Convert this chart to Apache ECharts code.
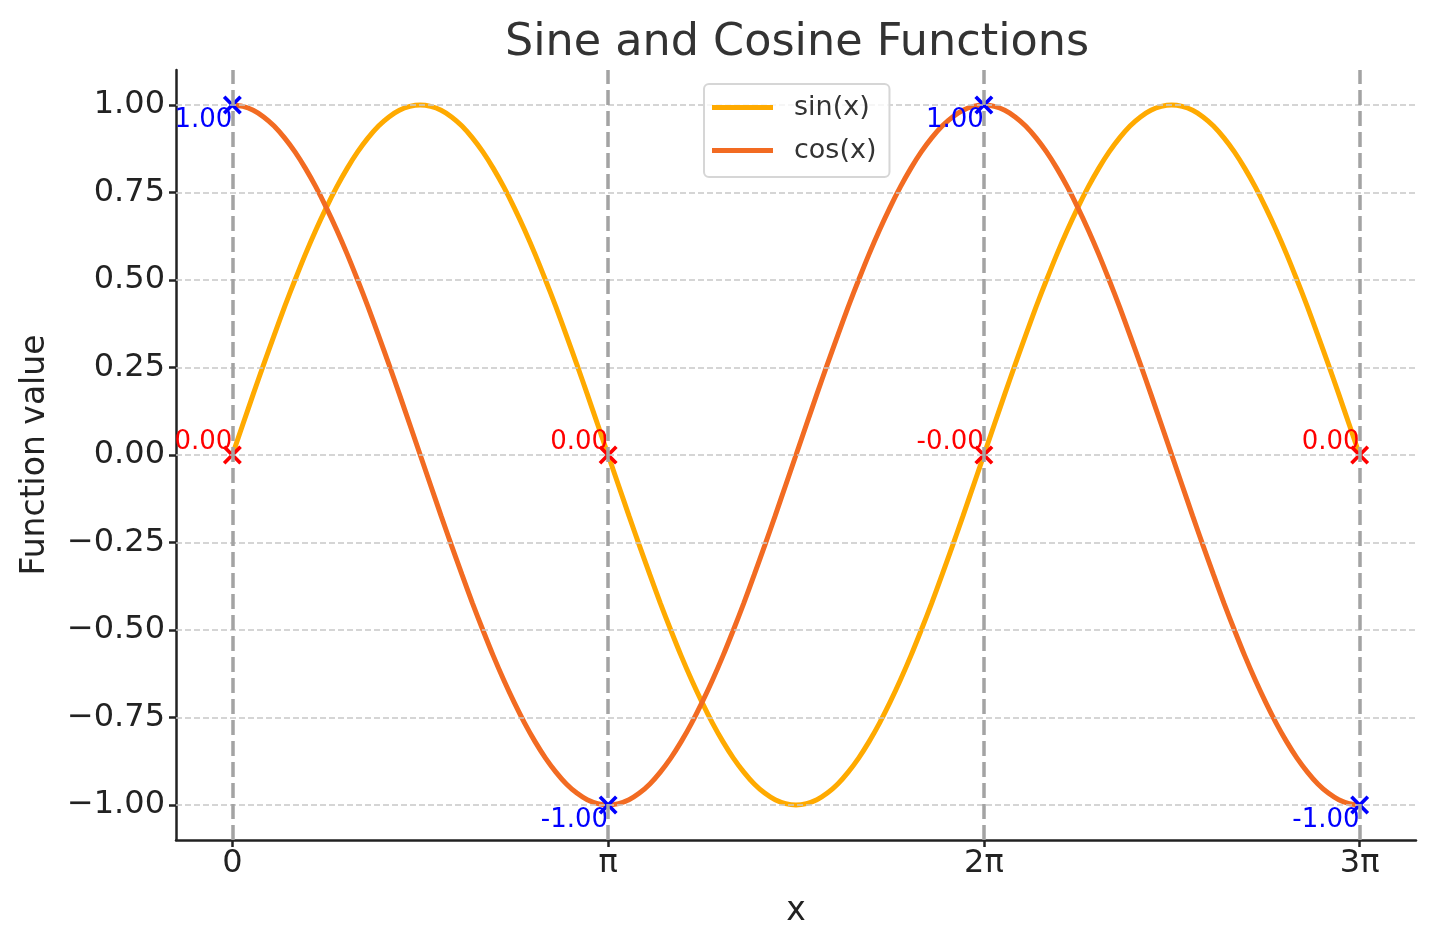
<!DOCTYPE html>
<html>
<head>
<meta charset="utf-8">
<script src="https://cdn.jsdelivr.net/npm/echarts@6/dist/echarts.min.js"></script>
<style>
  html, body { margin: 0; padding: 0; background: #fff; }
  #chart { width: 1436px; height: 947px; }
</style>
</head>
<body>
<div id="chart"></div>
<script>
const xDeg = [0, 5, 10, 15, 20, 25, 30, 35, 40, 45, 50, 55, 60, 65, 70, 75, 80, 85,
  90, 95, 100, 105, 110, 115, 120, 125, 130, 135, 140, 145, 150, 155, 160, 165, 170, 175,
  180, 185, 190, 195, 200, 205, 210, 215, 220, 225, 230, 235, 240, 245, 250, 255, 260, 265,
  270, 275, 280, 285, 290, 295, 300, 305, 310, 315, 320, 325, 330, 335, 340, 345, 350, 355,
  360, 365, 370, 375, 380, 385, 390, 395, 400, 405, 410, 415, 420, 425, 430, 435, 440, 445,
  450, 455, 460, 465, 470, 475, 480, 485, 490, 495, 500, 505, 510, 515, 520, 525, 530, 535, 540];
const sinValues = [0, 0.087, 0.174, 0.259, 0.342, 0.423, 0.5, 0.574, 0.643, 0.707, 0.766, 0.819, 0.866, 0.906, 0.94, 0.966, 0.985, 0.996,
  1, 0.996, 0.985, 0.966, 0.94, 0.906, 0.866, 0.819, 0.766, 0.707, 0.643, 0.574, 0.5, 0.423, 0.342, 0.259, 0.174, 0.087,
  0, -0.087, -0.174, -0.259, -0.342, -0.423, -0.5, -0.574, -0.643, -0.707, -0.766, -0.819, -0.866, -0.906, -0.94, -0.966, -0.985, -0.996,
  -1, -0.996, -0.985, -0.966, -0.94, -0.906, -0.866, -0.819, -0.766, -0.707, -0.643, -0.574, -0.5, -0.423, -0.342, -0.259, -0.174, -0.087,
  0, 0.087, 0.174, 0.259, 0.342, 0.423, 0.5, 0.574, 0.643, 0.707, 0.766, 0.819, 0.866, 0.906, 0.94, 0.966, 0.985, 0.996,
  1, 0.996, 0.985, 0.966, 0.94, 0.906, 0.866, 0.819, 0.766, 0.707, 0.643, 0.574, 0.5, 0.423, 0.342, 0.259, 0.174, 0.087, 0];
const cosValues = [1, 0.996, 0.985, 0.966, 0.94, 0.906, 0.866, 0.819, 0.766, 0.707, 0.643, 0.574, 0.5, 0.423, 0.342, 0.259, 0.174, 0.087,
  0, -0.087, -0.174, -0.259, -0.342, -0.423, -0.5, -0.574, -0.643, -0.707, -0.766, -0.819, -0.866, -0.906, -0.94, -0.966, -0.985, -0.996,
  -1, -0.996, -0.985, -0.966, -0.94, -0.906, -0.866, -0.819, -0.766, -0.707, -0.643, -0.574, -0.5, -0.423, -0.342, -0.259, -0.174, -0.087,
  0, 0.087, 0.174, 0.259, 0.342, 0.423, 0.5, 0.574, 0.643, 0.707, 0.766, 0.819, 0.866, 0.906, 0.94, 0.966, 0.985, 0.996,
  1, 0.996, 0.985, 0.966, 0.94, 0.906, 0.866, 0.819, 0.766, 0.707, 0.643, 0.574, 0.5, 0.423, 0.342, 0.259, 0.174, 0.087,
  0, -0.087, -0.174, -0.259, -0.342, -0.423, -0.5, -0.574, -0.643, -0.707, -0.766, -0.819, -0.866, -0.906, -0.94, -0.966, -0.985, -0.996, -1];

// marked points at multiples of π
const markX = [0, 180, 360, 540];
const sinMarks = [0, 0, 0, 0];
const sinMarkLabels = ['0.00', '0.00', '-0.00', '0.00'];
const cosMarks = [1, -1, 1, -1];
const cosMarkLabels = ['1.00', '-1.00', '1.00', '-1.00'];

// ticks
const xTicks = [0, 180, 360, 540];
const xTickLabels = ['0', 'π', '2π', '3π'];
const yTicks = [-1, -0.75, -0.5, -0.25, 0, 0.25, 0.5, 0.75, 1];
const yTickLabels = ['−1.00', '−0.75', '−0.50', '−0.25', '0.00', '0.25', '0.50', '0.75', '1.00'];

const FONT = 'DejaVu Sans';
// filled "x" marker
const crossPath = 'path://M0,2.2L2.2,0L8,5.8L13.8,0L16,2.2L10.2,8L16,13.8L13.8,16L8,10.2L2.2,16L0,13.8L5.8,8Z';

const chart = echarts.init(document.getElementById('chart'));

const zip = (xs, ys) => xs.map((x, i) => [x, ys[i]]);

const option = {
  animation: false,
  textStyle: { fontFamily: FONT },
  title: {
    text: 'Sine and Cosine Functions',
    left: 792,
    textAlign: 'center',
    top: 16,
    textStyle: { fontFamily: FONT, fontSize: 44.5, fontWeight: 'normal', color: '#333' }
  },
  legend: {
    data: ['sin(x)', 'cos(x)'],
    orient: 'vertical',
    left: 704,
    top: 84,
    z: 10,
    icon: 'rect',
    itemWidth: 61,
    itemHeight: 5,
    itemGap: 16,
    padding: [10, 13, 13, 8],
    backgroundColor: 'rgba(255,255,255,0.8)',
    borderColor: '#d6d6d6',
    borderWidth: 2,
    borderRadius: 5,
    textStyle: { fontFamily: FONT, fontSize: 27, lineHeight: 27, color: '#333', padding: [0, 0, 0, 16] }
  },
  grid: { left: 176, right: 20, top: 70, bottom: 107 },
  xAxis: {
    type: 'value',
    min: -27,
    max: 567,
    name: 'x',
    nameLocation: 'middle',
    nameGap: 55,
    nameTextStyle: { fontFamily: FONT, fontSize: 33, color: '#222' },
    axisLine: { onZero: false, lineStyle: { color: '#222', width: 2.5 } },
    axisTick: { show: true, customValues: xTicks, length: 7, lineStyle: { color: '#222', width: 2.5 } },
    axisLabel: {
      customValues: xTicks,
      margin: 8,
      fontFamily: FONT, fontSize: 32, color: '#222',
      formatter: v => xTickLabels[xTicks.indexOf(v)]
    },
    splitLine: { show: false }
  },
  yAxis: {
    type: 'value',
    min: -1.1,
    max: 1.1,
    name: 'Function value',
    nameLocation: 'middle',
    nameGap: 124,
    nameTextStyle: { fontFamily: FONT, fontSize: 33, color: '#222' },
    axisLine: { show: true, onZero: false, lineStyle: { color: '#222', width: 2.5 } },
    axisTick: { show: true, customValues: yTicks, length: 7, lineStyle: { color: '#222', width: 2.5 } },
    axisLabel: {
      customValues: yTicks,
      margin: 11,
      fontFamily: FONT, fontSize: 32, color: '#222',
      formatter: v => yTickLabels[yTicks.findIndex(t => Math.abs(t - v) < 1e-9)]
    },
    splitLine: { show: false }
  },
  series: [
    {
      // grid lines and the vertical guides at multiples of π
      name: 'guides',
      type: 'line',
      data: [],
      z: 1,
      silent: true,
      markLine: {
        silent: true,
        symbol: 'none',
        label: { show: false },
        animation: false,
        data: yTicks.map(v => ({ yAxis: v, lineStyle: { color: '#c8c8c8', width: 1.5, type: [6, 3] } }))
          .concat(markX.map(v => ({ xAxis: v, lineStyle: { color: '#a3a3a3', width: 3.5, type: [15, 6] } })))
      }
    },
    {
      name: 'sin(x)',
      type: 'line',
      data: zip(xDeg, sinValues),
      smooth: 0.3,
      showSymbol: false,
      z: 2,
      color: '#ffaa00',
      lineStyle: { color: '#ffaa00', width: 5 }
    },
    {
      name: 'cos(x)',
      type: 'line',
      data: zip(xDeg, cosValues),
      smooth: 0.3,
      showSymbol: false,
      z: 2,
      color: '#f26b22',
      lineStyle: { color: '#f26b22', width: 5 }
    },
    {
      name: 'sinMarks',
      type: 'scatter',
      data: zip(markX, sinMarks),
      symbol: crossPath,
      symbolSize: 19,
      z: 4,
      itemStyle: { color: '#ff0000', opacity: 1 },
      label: {
        show: true,
        position: ['50%', '50%'],
        align: 'right',
        verticalAlign: 'bottom',
        fontFamily: FONT, fontSize: 26, color: '#ff0000', opacity: 1,
        formatter: p => sinMarkLabels[p.dataIndex]
      }
    },
    {
      name: 'cosMarks',
      type: 'scatter',
      data: zip(markX, cosMarks),
      symbol: crossPath,
      symbolSize: 19,
      z: 4,
      itemStyle: { color: '#0000ff', opacity: 1 },
      label: {
        show: true,
        position: ['50%', '50%'],
        align: 'right',
        verticalAlign: 'top',
        offset: [0, 2],
        fontFamily: FONT, fontSize: 26, color: '#0000ff', opacity: 1,
        formatter: p => cosMarkLabels[p.dataIndex]
      }
    }
  ]
};

chart.setOption(option);
</script>
</body>
</html>
